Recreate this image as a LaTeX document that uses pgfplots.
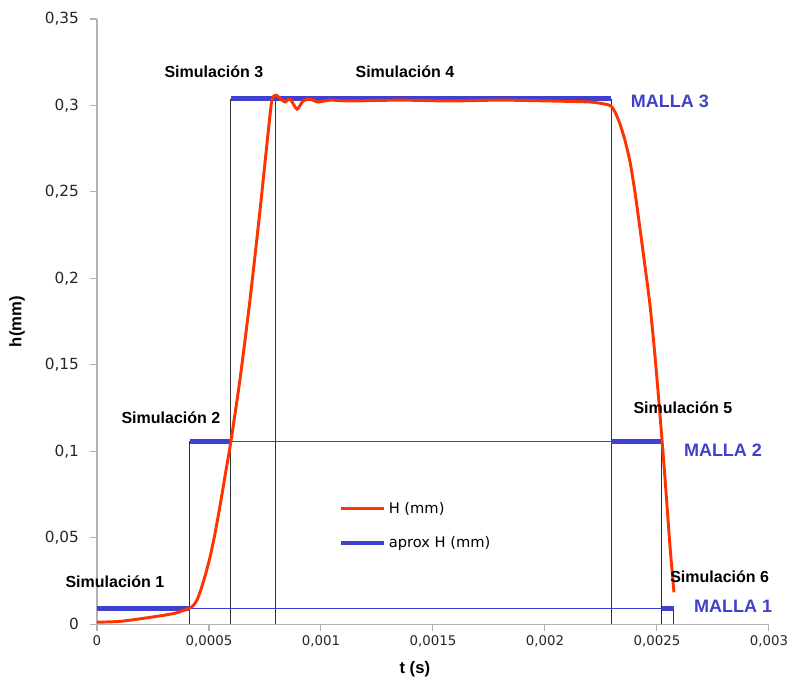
\documentclass[border=0pt]{standalone}
\usepackage{fontspec}
\setmainfont{Liberation Sans}
\newfontfamily\tickfont{DejaVu Sans}
\usepackage{pgfplots}
\pgfplotsset{compat=1.18}

\definecolor{hred}{RGB}{255,51,0}
\definecolor{aproxblue}{RGB}{64,64,208}
\definecolor{mallablue}{RGB}{64,64,200}
\definecolor{thinblue}{RGB}{60,60,210}
\definecolor{sgreen}{RGB}{140,176,80}
\definecolor{vline}{RGB}{50,50,50}

\begin{document}
\begin{tikzpicture}
\begin{axis}[
    scale only axis,
    width=504pt, height=454pt,
    xmin=0, xmax=0.003,
    ymin=0, ymax=0.35,
    xtick={0,0.0005,0.001,0.0015,0.002,0.0025,0.003},
    ytick={0,0.05,0.1,0.15,0.2,0.25,0.3,0.35},
    scaled x ticks=false, scaled y ticks=false,
    /pgf/number format/assume math mode=true,
    xticklabel style={font=\tickfont\fontsize{10}{12}\selectfont, text=black!85,
        /pgf/number format/.cd, fixed, precision=4, use comma},
    yticklabel style={font=\tickfont\fontsize{11.5}{13}\selectfont, text=black!85, xshift=-5pt,
        /pgf/number format/.cd, fixed, precision=2, use comma},
    axis lines*=left,
    axis line style={gray!60, line width=0.8pt},
    tick style={gray!60, line width=0.8pt},
    tick align=outside,
    major tick length=5pt,
    xlabel={\textbf{t (s)}},
    ylabel={\textbf{h(mm)}},
    label style={font=\fontsize{12.5}{14}\selectfont},
    xlabel style={at={(axis description cs:0.473,-0.075)}, anchor=center},
    ylabel style={at={(axis description cs:-0.119,0.5)}, anchor=center},
    clip=false,
    unbounded coords=jump,
    legend style={at={(axis cs:0.00106,0.074)}, anchor=north west, draw=none,
        fill=none, font=\tickfont\fontsize{11}{13}\selectfont, row sep=12pt},
    legend cell align=left,
    legend image code/.code={\draw[#1] (0pt,0pt) -- (32pt,0pt);},
]

% vertical separators between simulations
\addplot[vline, line width=0.7pt, forget plot] coordinates {
    (0.000415,0) (0.000415,0.1059) (0.000415,nan)
    (0.000598,0) (0.000598,0.304) (0.000598,nan)
    (0.000795,0) (0.000795,0.304) (0.000795,nan)
    (0.002295,0) (0.002295,0.304) (0.002295,nan)
    (0.002522,0) (0.002522,0.1059) (0.002522,nan)
    (0.002576,0) (0.002576,0.0093)
};

% mesh levels (thin)
\addplot[thinblue, line width=0.8pt, forget plot] coordinates {
    (0.000415,0.0093) (0.002522,0.0093) (0.002522,nan)
    (0.000598,0.1059) (0.002295,0.1059)
};

% green series under aprox
\addplot[sgreen, line width=1.2pt, forget plot] coordinates {
    (0,0.0097) (0.000415,0.0097) (0.000415,nan)
    (0.000415,0.1068) (0.000598,0.1068) (0.000598,nan)
    (0.000598,0.3045) (0.002295,0.3045) (0.002295,nan)
    (0.002295,0.1068) (0.002522,0.1068) (0.002522,nan)
    (0.002522,0.0097) (0.002576,0.0097)
};

% aprox H (mm)
\addplot[aproxblue, line width=3.6pt, forget plot] coordinates {
    (0,0.0093) (0.000415,0.0093) (0.000415,nan)
    (0.000415,0.1059) (0.000598,0.1059) (0.000598,nan)
    (0.000598,0.304) (0.002295,0.304) (0.002295,nan)
    (0.002295,0.1059) (0.002522,0.1059) (0.002522,nan)
    (0.002522,0.0093) (0.002576,0.0093)
};

% H (mm)
\addplot[hred, line width=2.2pt, smooth, tension=0.4, forget plot] coordinates {
    (0,0.0012) (0.000103,0.0017) (0.000237,0.0040) (0.000348,0.0064)
    (0.00042,0.0098) (0.000446,0.0139) (0.000465,0.0205) (0.000485,0.0290)
    (0.000505,0.0390) (0.000527,0.0525) (0.00055,0.0690) (0.000574,0.0875)
    (0.000598,0.1059)
    (0.000638,0.1412) (0.000683,0.1874) (0.000728,0.2395) (0.000763,0.2829)
    (0.000781,0.3031) (0.000799,0.306) (0.000821,0.3037) (0.000839,0.302)
    (0.000862,0.3037) (0.000893,0.2979) (0.00092,0.3026) (0.000951,0.3037)
    (0.000987,0.302) (0.00104,0.3031) (0.00113,0.3026) (0.001353,0.3031)
    (0.001576,0.3026) (0.001799,0.3031) (0.002022,0.3026) (0.002201,0.302)
    (0.002268,0.3008) (0.002295,0.2997) (0.002313,0.2962) (0.002335,0.2893)
    (0.002357,0.2800) (0.00238,0.2673) (0.002402,0.2499) (0.002424,0.2291)
    (0.002446,0.2077) (0.002469,0.1846) (0.002491,0.1556) (0.002513,0.1221)
    (0.002536,0.0845) (0.002558,0.0457) (0.002576,0.0185)
};

\addlegendimage{hred, line width=2.2pt}
\addlegendentry{H (mm)}
\addlegendimage{aproxblue, line width=3.6pt}
\addlegendentry{aprox H (mm)}

% annotations
\begin{scope}[font=\fontsize{12}{14}\selectfont\bfseries]
\node at (axis cs:0.00008,0.0249) {Simulación 1};
\node at (axis cs:0.00033,0.1192) {Simulación 2};
\node at (axis cs:0.000522,0.3193) {Simulación 3};
\node at (axis cs:0.001375,0.3193) {Simulación 4};
\node at (axis cs:0.002616,0.1255) {Simulación 5};
\node at (axis cs:0.00278,0.0278) {Simulación 6};
\end{scope}
\begin{scope}[font=\fontsize{13.5}{15}\selectfont\bfseries, text=mallablue]
\node at (axis cs:0.002558,0.3026) {MALLA 3};
\node at (axis cs:0.002795,0.1007) {MALLA 2};
\node at (axis cs:0.00284,0.0104) {MALLA 1};
\end{scope}

\coordinate (bbbl) at (axis cs:-0.000433,-0.0382);
\coordinate (bbtr) at (axis cs:0.003112,0.361);
\end{axis}
\pgfresetboundingbox
\useasboundingbox (bbbl) rectangle (bbtr);
\end{tikzpicture}
\end{document}
